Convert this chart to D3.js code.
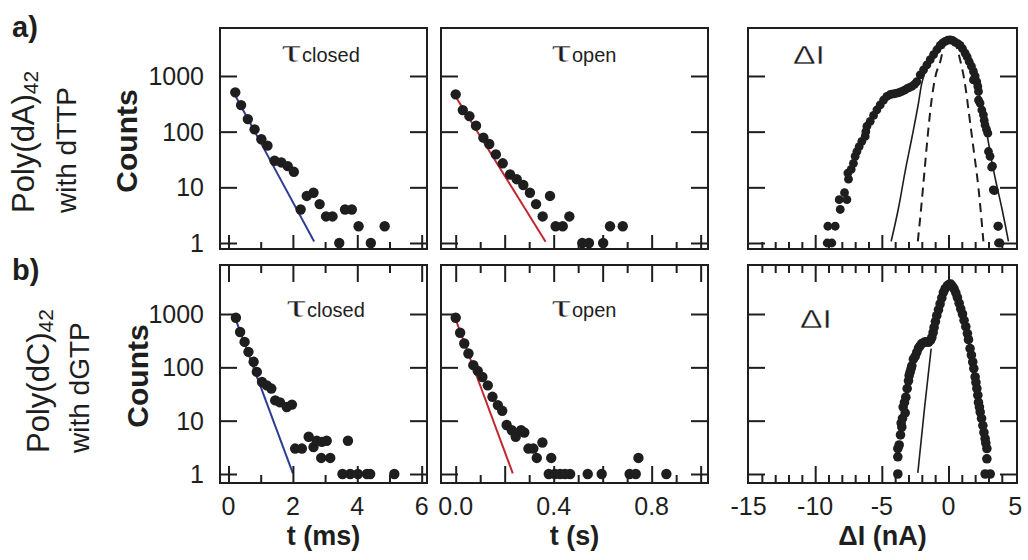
<!DOCTYPE html>
<html><head><meta charset="utf-8">
<script src="https://cdn.jsdelivr.net/npm/d3@7"></script>
<style>
body{margin:0;background:#fff;}
svg{display:block;font-family:"Liberation Sans",Arial,Helvetica,sans-serif;}
</style></head><body>
<svg id="fig" width="1028" height="560"></svg>
<script>
// ---- data ---------------------------------------------------------------
// dwell-time histograms: [time, counts]
const closedA = [[0.21,508],[0.39,300],[0.60,168],[0.81,110],[1.02,73],[1.21,56],[1.43,30],[1.64,28],[1.84,24],[2.03,19],[2.24,4],[2.43,7],[2.64,8],[2.83,5],[3.03,3],[3.23,3],[3.44,1],[3.62,4],[3.83,4],[4.04,2],[4.42,1],[4.85,2]];
const openA = [[0.0,468],[0.029,244],[0.056,190],[0.083,128],[0.113,78],[0.137,60],[0.164,39],[0.192,27],[0.222,17],[0.249,14],[0.276,11],[0.303,8],[0.328,5],[0.355,3],[0.385,7],[0.408,2],[0.437,2],[0.464,3],[0.517,1],[0.544,1],[0.602,1],[0.63,2],[0.682,2]];
const closedB = [[0.23,850],[0.36,460],[0.5,300],[0.62,195],[0.78,127],[0.88,82],[1.04,53],[1.19,46],[1.33,40],[1.45,24],[1.6,22],[1.81,18],[1.97,20],[2.07,3],[2.28,3],[2.49,5],[2.64,3.2],[2.74,4.2],[2.9,4],[3.05,4.2],[2.88,2],[3.16,2],[3.71,4.2],[3.54,1],[3.78,1],[4.02,1],[4.3,1],[4.4,1],[5.15,1]];
const openB = [[0.0,850],[0.018,445],[0.035,280],[0.052,182],[0.072,110],[0.09,86],[0.109,66],[0.131,46],[0.15,28],[0.172,19.6],[0.19,15.3],[0.208,8.3],[0.229,6.6],[0.245,5],[0.267,6.6],[0.28,6],[0.297,3],[0.317,3],[0.331,2],[0.354,3.9],[0.39,2],[0.38,1],[0.405,1],[0.426,1],[0.446,1],[0.467,1],[0.539,1],[0.596,1],[0.71,1],[0.735,1],[0.746,2],[0.86,1]];

// single-exponential fits: [time, counts] end points
const fitClosedA = [[0.23,424],[2.66,1.06]];
const fitOpenA = [[0.0,424],[0.367,1.05]];
const fitClosedB = [[0.23,765],[2.0,1.03]];
const fitOpenB = [[0.0,790],[0.233,1.03]];

// current-blockade histograms: [ΔI (nA), counts]
const dIA = [[-9.1,1],[-8.75,1],[-9.05,2],[-8.5,2],[-8.12,4],[-8.2,6],[-7.62,6],[-7.8,8],[-7.5,14],[-7.55,18],[-7.3,21],[-7.13,27],[-7.0,36],[-6.87,44],[-6.7,54],[-6.5,67],[-6.25,82],[-6.12,125],[-6.2,100],[-5.87,153],[-5.62,196],[-5.37,247],[-5.12,302],[-4.87,370],[-4.62,430],[-4.4,460],[-4.25,473],[-4.05,480],[-3.87,493],[-3.68,505],[-3.5,527],[-3.3,555],[-3.12,590],[-2.95,620],[-2.75,650],[-2.55,710],[-2.37,795],[-2.12,1050],[-1.87,1290],[-1.62,1590],[-1.37,1960],[-1.12,2410],[-0.87,2960],[-0.62,3540],[-0.45,3900],[-0.25,4180],[-0.05,4400],[0.13,4470],[0.3,4350],[0.5,4060],[0.7,3800],[0.87,3540],[1.05,3100],[1.25,2570],[1.4,2200],[1.55,1820],[1.72,1500],[1.87,1210],[1.87,850],[2.0,1000],[2.12,795],[2.2,650],[2.25,527],[2.25,370],[2.37,326],[2.5,245],[2.62,201],[2.68,160],[2.74,132],[2.85,110],[2.95,94],[3.0,44],[3.12,36],[3.24,23],[3.3,24],[3.36,9],[3.45,8.7],[3.7,2],[3.75,2],[3.75,1],[3.87,1]];
const dIB = [[-3.8,1],[-3.8,2.1],[-3.8,3],[-3.7,3.5],[-3.6,5.4],[-3.55,9],[-3.5,7.6],[-3.45,11],[-3.4,18],[-3.3,22],[-3.25,14],[-3.2,27.5],[-3.1,40],[-3.0,56],[-2.95,70],[-2.88,81],[-2.8,95],[-2.75,107],[-2.63,142],[-2.5,160],[-2.38,190],[-2.25,230],[-2.13,253],[-2.0,280],[-1.83,295],[-1.7,300],[-1.5,295],[-1.35,320],[-1.25,363],[-1.15,450],[-1.08,560],[-0.98,720],[-0.88,930],[-0.75,1200],[-0.63,1540],[-0.5,2000],[-0.38,2550],[-0.25,3000],[-0.08,3400],[0.05,3600],[0.17,3630],[0.3,3300],[0.42,2950],[0.55,2500],[0.67,2040],[0.8,1600],[0.92,1250],[1.05,1000],[1.17,760],[1.3,580],[1.42,430],[1.5,330],[1.62,225],[1.72,170],[1.82,126],[1.9,95],[2.0,66],[2.06,52],[2.13,40],[2.2,30],[2.25,22],[2.32,18],[2.38,14.5],[2.48,11],[2.58,8.1],[2.66,6],[2.75,4.6],[2.8,3.8],[2.88,3],[2.88,1.93],[2.75,1],[3.13,1]];

// Gaussian fits of the blockade histograms: [ΔI (nA), counts]
const gaussWideA = [[-4.3,1.07],[-3.75,4.25],[-3.25,19.4],[-2.75,77],[-2.25,327],[-2.0,745],[-1.0,2300],[0.1,4400],[1.2,2400],[2.2,600],[2.8,120],[3.25,29],[3.5,14.7],[4.0,4.25],[4.5,1.07]];
const gaussNarrowA = [[-2.3,1.07],[-2.05,4.25],[-1.8,19.4],[-1.55,88],[-1.25,400],[-0.95,1050],[-0.62,1800],[-0.3,3600],[0.15,4450],[0.5,3900],[0.87,1960],[1.25,695],[1.55,200],[1.87,51],[2.25,9.7],[2.62,1.07]];
const gaussB = [[-2.3,1.05],[-1.8,17],[-1.3,225]];

// tick values
const countTicks = [1, 10, 100, 1000];
const msMajor = [0, 2, 4, 6], msMinor = [1, 3, 5], msLabels = [0, 2, 4, 6];
const sMajor = [0, 0.2, 0.4, 0.6, 0.8, 1.0], sMinor = [0.1, 0.3, 0.5, 0.7, 0.9], sLabels = [0.0, 0.4, 0.8];
const nAMajor = [-10, -5, 0], nAMinor = d3.range(-14, 5).filter(v => v % 5 !== 0), nALabels = [-15, -10, -5, 0, 5];

// ---- layout -------------------------------------------------------------
const svg = d3.select("#fig");
const INK = "#1e1e1e";
const plainInt = d => String(d);          // hyphen-minus, as printed
const oneDecimal = d => d.toFixed(1);

const rows = [
  {top: 28, bottom: 249, dom: [0.78, 7278], topTicks: false, tall: 14, short: 7},
  {top: 265, bottom: 483, dom: [0.678, 8300], topTicks: true, tall: 17, short: 8}
];
const cols = [
  {left: 220, right: 427, dom: [-0.264, 6.165], major: msMajor, minor: msMinor, labels: msLabels, fmt: plainInt, title: "t (ms)"},
  {left: 441, right: 708, dom: [-0.06, 1.03], major: sMajor, minor: sMinor, labels: sLabels, fmt: oneDecimal, title: "t (s)"},
  {left: 748, right: 1017, dom: [-15.04, 5.14], major: nAMajor, minor: nAMinor, labels: nALabels, fmt: plainInt, title: "\u0394I (nA)"}
];

const panels = [
  {r: 0, c: 0, dots: closedA, rad: 5.2, fit: fitClosedA, fitColor: "#2b3e92", label: "closed"},
  {r: 0, c: 1, dots: openA, rad: 5.2, fit: fitOpenA, fitColor: "#c3272e", label: "open"},
  {r: 0, c: 2, dots: dIA, rad: 4.4, gauss: [{d: gaussWideA, dash: null}, {d: gaussNarrowA, dash: "9,6"}], label: "dI"},
  {r: 1, c: 0, dots: closedB, rad: 5.2, fit: fitClosedB, fitColor: "#2b3e92", label: "closed"},
  {r: 1, c: 1, dots: openB, rad: 5.2, fit: fitOpenB, fitColor: "#c3272e", label: "open"},
  {r: 1, c: 2, dots: dIB, rad: 4.8, gauss: [{d: gaussB, dash: null}], label: "dI"}
];

function styleAxis(g) {
  g.select(".domain").remove();
  g.selectAll("line").attr("stroke", INK).attr("stroke-width", 2);
  g.selectAll("text").remove();
}

panels.forEach(p => {
  const R = rows[p.r], C = cols[p.c];
  const x = d3.scaleLinear().domain(C.dom).range([C.left, C.right]);
  const y = d3.scaleLog().domain(R.dom).range([R.bottom, R.top]);
  const g = svg.append("g");

  // fitted curves underneath the points
  if (p.fit) {
    g.append("path").datum(p.fit)
      .attr("d", d3.line().x(d => x(d[0])).y(d => y(d[1])))
      .attr("fill", "none").attr("stroke", p.fitColor).attr("stroke-width", 2);
  }
  if (p.gauss) {
    p.gauss.forEach(gc => {
      g.append("path").datum(gc.d)
        .attr("d", d3.line().curve(d3.curveMonotoneX).x(d => x(d[0])).y(d => y(d[1])))
        .attr("fill", "none").attr("stroke", INK)
        .attr("stroke-width", gc.dash ? 2 : 1.6)
        .attr("stroke-dasharray", gc.dash);
    });
  }

  // histogram points
  g.selectAll("circle").data(p.dots).join("circle")
    .attr("cx", d => x(d[0])).attr("cy", d => y(d[1])).attr("r", p.rad).attr("fill", INK);

  // inward ticks on all framed sides
  g.append("g").attr("transform", `translate(${C.left},0)`)
    .call(d3.axisLeft(y).tickValues(countTicks).tickSize(-17)).call(styleAxis);
  g.append("g").attr("transform", `translate(${C.right},0)`)
    .call(d3.axisRight(y).tickValues(countTicks).tickSize(-17)).call(styleAxis);
  g.append("g").attr("transform", `translate(0,${R.bottom})`)
    .call(d3.axisBottom(x).tickValues(C.major).tickSize(-R.tall)).call(styleAxis);
  g.append("g").attr("transform", `translate(0,${R.bottom})`)
    .call(d3.axisBottom(x).tickValues(C.minor).tickSize(-R.short)).call(styleAxis);
  if (R.topTicks) {
    g.append("g").attr("transform", `translate(0,${R.top})`)
      .call(d3.axisTop(x).tickValues(C.major).tickSize(-R.tall)).call(styleAxis);
    g.append("g").attr("transform", `translate(0,${R.top})`)
      .call(d3.axisTop(x).tickValues(C.minor).tickSize(-R.short)).call(styleAxis);
  }

  // frame
  g.append("rect").attr("x", C.left).attr("y", R.top)
    .attr("width", C.right - C.left).attr("height", R.bottom - R.top)
    .attr("fill", "none").attr("stroke", INK).attr("stroke-width", 2);

  // count labels on the first column
  if (p.c === 0) {
    g.selectAll("text.yl").data(countTicks).join("text").attr("class", "yl")
      .attr("x", C.left - 16).attr("y", d => y(d)).attr("dy", "0.36em")
      .attr("text-anchor", "end").attr("font-size", 25).attr("fill", INK)
      .text(plainInt);
  }
  // time / current labels on the bottom row
  if (p.r === 1) {
    g.selectAll("text.xl").data(C.labels).join("text").attr("class", "xl")
      .attr("x", d => x(d)).attr("y", 515)
      .attr("text-anchor", "middle").attr("font-size", 25).attr("fill", INK)
      .text(C.fmt);
    g.append("text").attr("x", (C.left + C.right) / 2).attr("y", 545)
      .attr("text-anchor", "middle").attr("font-size", 27).attr("font-weight", "bold")
      .attr("fill", INK).text(C.title);
  }

  // panel captions (a faint white outline keeps the glyph strokes light)
  const base = p.r === 0 ? 62 : 317;
  if (p.label === "dI") {
    const lx = p.r === 0 ? 793 : 800;
    g.append("text").attr("transform", `translate(${lx},${p.r === 0 ? 64 : 328}) scale(1.3,1)`)
      .attr("font-size", 26).attr("fill", INK)
      .attr("stroke", "#fff").attr("stroke-width", 0.35)
      .text("\u0394I");
  } else {
    const tx = p.c === 0 ? (p.r === 0 ? 281 : 286) : 551;
    g.append("text").attr("transform", `translate(${tx},${base}) scale(1.5,1)`)
      .attr("font-family", "'Liberation Serif','Times New Roman',serif")
      .attr("font-size", 34).attr("fill", INK)
      .attr("stroke", "#fff").attr("stroke-width", 0.45)
      .text("\u03c4");
    g.append("text").attr("x", tx + 21).attr("y", base)
      .attr("font-size", 20).attr("fill", INK).text(p.label);
  }
});

// row captions
const rowText = [
  {tag: "a)", tagY: 37, poly: "Poly(dA)", nuc: "with dTTP", x1: 34, x2: 76, yStart: 213, countsX: 137, countsY: 141},
  {tag: "b)", tagY: 280, poly: "Poly(dC)", nuc: "with dGTP", x1: 49, x2: 89, yStart: 453, countsX: 148, countsY: 376}
];
rowText.forEach(t => {
  svg.append("text").attr("x", 12).attr("y", t.tagY).attr("font-size", 29)
    .attr("font-weight", "bold").attr("fill", INK).text(t.tag);
  const l1 = svg.append("text").attr("transform", `translate(${t.x1},${t.yStart}) rotate(-90)`)
    .attr("font-size", 31).attr("fill", INK);
  l1.append("tspan").text(t.poly);
  l1.append("tspan").attr("font-size", 21).attr("dy", 4).text("42");
  svg.append("text").attr("transform", `translate(${t.x2},${t.yStart}) rotate(-90)`)
    .attr("font-size", 28).attr("fill", INK).text(t.nuc);
  svg.append("text").attr("transform", `translate(${t.countsX},${t.countsY}) rotate(-90)`)
    .attr("text-anchor", "middle").attr("font-size", 30).attr("font-weight", "bold")
    .attr("fill", INK).text("Counts");
});
</script>
</body></html>
